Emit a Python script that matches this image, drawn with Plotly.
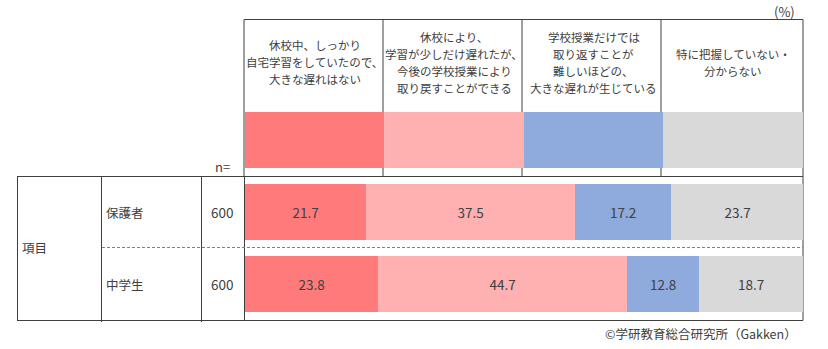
import plotly.graph_objects as go

W, H = 828, 349

categories = ["保護者", "中学生"]
n_values = ["600", "600"]
series_names = [
    "休校中、しっかり<br>自宅学習をしていたので、<br>大きな遅れはない",
    "休校により、<br>学習が少しだけ遅れたが、<br>今後の学校授業により<br>取り戻すことができる",
    "学校授業だけでは<br>取り返すことが<br>難しいほどの、<br>大きな遅れが生じている",
    "特に把握していない・<br>分からない",
]
values = [
    [21.7, 23.8],
    [37.5, 44.7],
    [17.2, 12.8],
    [23.7, 18.7],
]
colors = ["#FF7B7B", "#FFB0B0", "#8FAADC", "#D9D9D9"]

FONT = "Noto Sans CJK JP, Meiryo, sans-serif"
TXT = "#404040"
LINE = "#404040"


def X(px):
    return px / W


def Y(py):
    return 1 - py / H


fig = go.Figure()
for name, vals, col in zip(series_names, values, colors):
    fig.add_trace(go.Bar(
        y=categories, x=vals, orientation="h", name=name.replace("<br>", ""),
        marker=dict(color=col, line=dict(width=0)),
        width=0.78,
        text=[f"{v:.1f}" for v in vals], textposition="inside",
        insidetextanchor="middle", textangle=0, constraintext="none",
        textfont=dict(family=FONT, size=13.5, color=TXT),
        hoverinfo="skip", showlegend=False,
    ))

shapes = []
annotations = []

# header swatches (legend) in the four equal header columns
for i, col in enumerate(colors):
    shapes.append(dict(type="rect", xref="x", yref="paper",
                       x0=i * 25, x1=(i + 1) * 25, y0=Y(168), y1=Y(112),
                       fillcolor=col, line=dict(width=0), layer="above"))

# header text lines
for i, name in enumerate(series_names):
    lines = name.split("<br>")
    step = 17
    start = 62 - step * (len(lines) - 1) / 2
    for j, ln in enumerate(lines):
        annotations.append(dict(xref="x", yref="paper", x=i * 25 + 12.5,
                                y=Y(start + j * step), text=ln, showarrow=False,
                                xanchor="center", yanchor="middle",
                                font=dict(family=FONT, size=11.5, color=TXT)))

# table lines
def hline(y, x0, x1, dash=None, color=LINE):
    d = dict(type="line", xref="paper", yref="paper", x0=X(x0), x1=X(x1),
             y0=Y(y), y1=Y(y), line=dict(color=color, width=1), layer="above")
    if dash:
        d["line"]["dash"] = dash
    shapes.append(d)


def vline(x, y0, y1):
    shapes.append(dict(type="line", xref="paper", yref="paper", x0=X(x), x1=X(x),
                       y0=Y(y0), y1=Y(y1), line=dict(color=LINE, width=1),
                       layer="below"))

hline(19.5, 244, 803)
for xx in [244, 383, 522, 661, 803]:
    vline(xx, 19.5, 176)
hline(176.5, 17, 803)
hline(320.5, 17, 803)
vline(17.5, 176, 320.5)
vline(101.5, 176, 322)
vline(201.5, 176, 322)
vline(244.5, 176, 320.5)
vline(803, 176, 320.5)
hline(247.5, 102, 803, dash="3px,2px", color="#808080")

# left table text
annotations += [
    dict(xref="paper", yref="paper", x=X(20), y=Y(247), text="項目", showarrow=False,
         xanchor="left", yanchor="middle", font=dict(family=FONT, size=12.5, color=TXT)),
    dict(xref="paper", yref="paper", x=X(222), y=Y(167), text="n=", showarrow=False,
         xanchor="center", yanchor="middle", font=dict(family=FONT, size=13, color=TXT)),
    dict(xref="paper", yref="paper", x=X(797), y=Y(11), text="(%)", showarrow=False,
         xanchor="right", yanchor="middle", font=dict(family=FONT, size=13, color=TXT)),
    dict(xref="paper", yref="paper", x=X(799), y=Y(333), text="©学研教育総合研究所（Gakken）",
         showarrow=False, xanchor="right", yanchor="middle",
         font=dict(family=FONT, size=12.5, color=TXT)),
]
for cat, n in zip(categories, n_values):
    annotations.append(dict(xref="paper", yref="y", x=X(104), y=cat, text=cat,
                            showarrow=False, xanchor="left", yanchor="middle",
                            font=dict(family=FONT, size=12.5, color=TXT)))
    annotations.append(dict(xref="paper", yref="y", x=X(222), y=cat, text=n,
                            showarrow=False, xanchor="center", yanchor="middle",
                            font=dict(family=FONT, size=13.5, color=TXT)))

fig.update_layout(
    width=W, height=H, margin=dict(l=0, r=0, t=0, b=0),
    paper_bgcolor="white", plot_bgcolor="white",
    barmode="stack", bargap=0,
    xaxis=dict(domain=[X(245), X(803)], range=[0, 100], visible=False, fixedrange=True),
    yaxis=dict(domain=[Y(320), Y(176)], type="category",
               categoryarray=categories[::-1], range=[-0.5, 1.5], visible=False),
    shapes=shapes, annotations=annotations,
)

fig.write_html("out.html")
